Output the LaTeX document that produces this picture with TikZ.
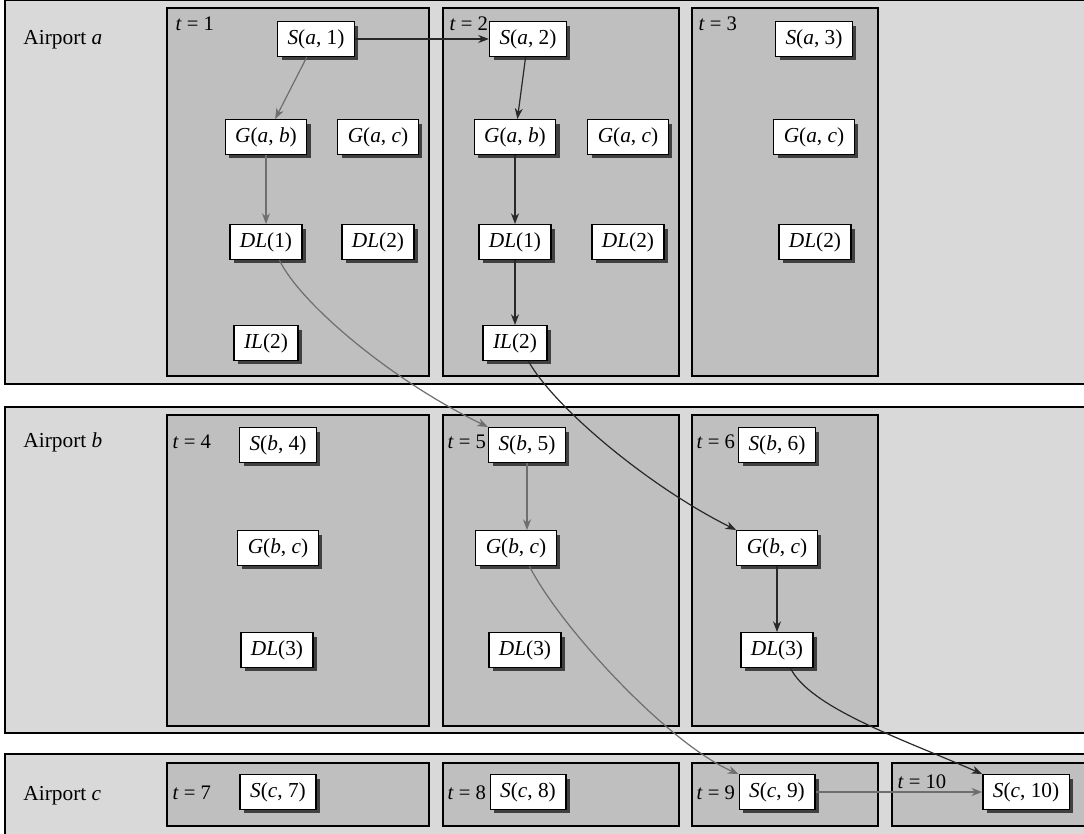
\documentclass[tikz,border=0pt]{standalone}
\usepackage{fontspec}
\setmainfont{Liberation Serif}
\usetikzlibrary{arrows.meta,shadows}

\definecolor{bandgray}{RGB}{217,217,217}
\definecolor{slotgray}{RGB}{191,191,191}
\definecolor{palearrow}{RGB}{110,110,110}
\definecolor{darkarrow}{RGB}{40,40,40}

\tikzset{every picture/.style={line width=0.75pt}}
\tikzset{
band/.style={draw=black, fill=bandgray, line width=1pt},
slot/.style={draw=black, fill=slotgray, line width=1pt},
state/.style={draw=black, fill=white, line width=1pt, inner xsep=7.5pt, minimum height=26pt,
  font=\fontsize{16}{19}\selectfont,
  drop shadow={shadow xshift=3pt, shadow yshift=-3pt, fill=black!75, opacity=1}},
tlabel/.style={anchor=west, inner sep=0pt, font=\fontsize{15.5}{18}\selectfont},
port/.style={anchor=base west, inner sep=0pt, font=\fontsize{16}{19}\selectfont},
pale/.style={draw=palearrow, line width=0.9pt, -{Stealth[length=8pt,width=6pt,inset=2.5pt]}},
dark/.style={draw=darkarrow, line width=0.9pt, -{Stealth[length=8pt,width=6pt,inset=2.5pt]}}
}

\begin{document}
\begin{tikzpicture}[x=0.75pt,y=0.75pt,yscale=-1,xscale=1]
\useasboundingbox (0,0) rectangle (1084,834);
\clip (0,0) rectangle (1084,834);

%Shape: bands
\draw [band] (5,0.5) rectangle (1095,384);
\draw [band] (5,407) rectangle (1095,733);
\draw [band] (5,754) rectangle (1095,845);

%Shape: time slots, airport a
\draw [slot] (167,8) rectangle (429,376);
\draw [slot] (443,8) rectangle (679,376);
\draw [slot] (692,8) rectangle (878,376);
%Shape: time slots, airport b
\draw [slot] (167,415) rectangle (429,726);
\draw [slot] (443,415) rectangle (679,726);
\draw [slot] (692,415) rectangle (878,726);
%Shape: time slots, airport c
\draw [slot] (167,763) rectangle (429,826);
\draw [slot] (443,763) rectangle (679,826);
\draw [slot] (692,763) rectangle (878,826);
\draw [slot] (892,763) rectangle (1095,826);

% Text Node
\node [port] (porta) at (23,45) {Airport \textit{a}};
\node [port] (portb) at (23,447) {Airport \textit{b}};
\node [port] (portc) at (23,800) {Airport \textit{c}};

% Text Node
\node [tlabel] (t1) at (175,24) {\textit{t} = 1};
\node [tlabel] (t2) at (449,24) {\textit{t} = 2};
\node [tlabel] (t3) at (698,24) {\textit{t} = 3};
\node [tlabel] (t4) at (172,442) {\textit{t} = 4};
\node [tlabel] (t5) at (447,442) {\textit{t} = 5};
\node [tlabel] (t6) at (696,442) {\textit{t} = 6};
\node [tlabel] (t7) at (172,793) {\textit{t} = 7};
\node [tlabel] (t8) at (447,793) {\textit{t} = 8};
\node [tlabel] (t9) at (696,793) {\textit{t} = 9};
\node [tlabel] (t10) at (897,782) {\textit{t} = 10};

%Shape: states, airport a
\node [state] (Sa1) at (316,39) {\textit{S}(\textit{a}, 1)};
\node [state] (Sa2) at (528,39) {\textit{S}(\textit{a}, 2)};
\node [state] (Sa3) at (814,39) {\textit{S}(\textit{a}, 3)};
\node [state] (Gab1) at (266,137) {\textit{G}(\textit{a}, \textit{b})};
\node [state] (Gac1) at (378,137) {\textit{G}(\textit{a}, \textit{c})};
\node [state] (Gab2) at (515,137) {\textit{G}(\textit{a}, \textit{b})};
\node [state] (Gac2) at (628,137) {\textit{G}(\textit{a}, \textit{c})};
\node [state] (Gac3) at (814,137) {\textit{G}(\textit{a}, \textit{c})};
\node [state] (DL11) at (266,242) {\textit{DL}(1)};
\node [state] (DL21) at (378,242) {\textit{DL}(2)};
\node [state] (DL12) at (515,242) {\textit{DL}(1)};
\node [state] (DL22) at (628,242) {\textit{DL}(2)};
\node [state] (DL23) at (815,242) {\textit{DL}(2)};
\node [state] (IL21) at (266,343) {\textit{IL}(2)};
\node [state] (IL22) at (515,343) {\textit{IL}(2)};

%Shape: states, airport b
\node [state] (Sb4) at (278,445) {\textit{S}(\textit{b}, 4)};
\node [state] (Sb5) at (527,445) {\textit{S}(\textit{b}, 5)};
\node [state] (Sb6) at (777,445) {\textit{S}(\textit{b}, 6)};
\node [state] (Gbc4) at (278,548) {\textit{G}(\textit{b}, \textit{c})};
\node [state] (Gbc5) at (516,548) {\textit{G}(\textit{b}, \textit{c})};
\node [state] (Gbc6) at (777,548) {\textit{G}(\textit{b}, \textit{c})};
\node [state] (DL34) at (277,650) {\textit{DL}(3)};
\node [state] (DL35) at (525,650) {\textit{DL}(3)};
\node [state] (DL36) at (777,650) {\textit{DL}(3)};

%Shape: states, airport c
\node [state] (Sc7) at (278,792) {\textit{S}(\textit{c}, 7)};
\node [state] (Sc8) at (528,792) {\textit{S}(\textit{c}, 8)};
\node [state] (Sc9) at (777,792) {\textit{S}(\textit{c}, 9)};
\node [state] (Sc10) at (1026,792) {\textit{S}(\textit{c}, 10)};

%Straight Lines
\draw [dark] (Sa1) -- (Sa2);
\draw [pale] (Sa1) -- (Gab1);
\draw [pale] (Gab1) -- (DL11);
\draw [dark] (Sa2) -- (Gab2);
\draw [dark] (Gab2) -- (DL12);
\draw [dark] (DL12) -- (IL22);
\draw [pale] (Sb5.south) -- (Sb5.south |- Gbc5.north);
\draw [dark] (Gbc6) -- (DL36);
\draw [pale] (Sc9) -- (Sc10);

%Curves between airports
\draw [pale] ([xshift=10pt]DL11.south) .. controls +(20,42) and +(-99,-48) .. (Sb5.north west);
\draw [dark] ([xshift=10pt]IL22.south) .. controls +(25,45) and +(-90,-45) .. (Gbc6.north west);
\draw [pale] ([xshift=10pt]Gbc5.south) .. controls +(30,60) and +(-70,-30) .. (Sc9.north west);
\draw [dark] ([xshift=10pt]DL36.south) .. controls +(20,40) and +(-80,-35) .. (Sc10.north west);

\end{tikzpicture}
\end{document}
